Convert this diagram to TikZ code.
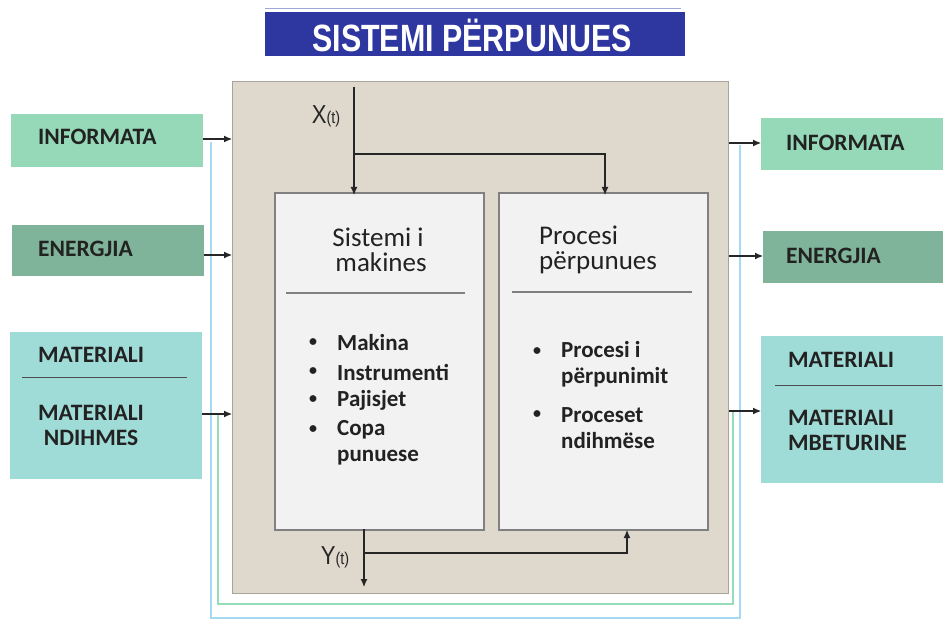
\documentclass[tikz,border=0pt]{standalone}
\usepackage{fontspec}
\setmainfont{Carlito}
\newfontfamily\arialf{Liberation Sans}
\usetikzlibrary{arrows.meta}
\definecolor{infoc}{HTML}{95D9B8}
\definecolor{enec}{HTML}{80B49A}
\definecolor{matc}{HTML}{A0DCD7}
\definecolor{beige}{HTML}{DFD9CD}
\definecolor{beigeb}{HTML}{A8A39B}
\definecolor{innerc}{HTML}{F2F2F2}
\definecolor{innerb}{HTML}{808080}
\definecolor{titlec}{HTML}{2E36A0}
\definecolor{titlel}{HTML}{9DA6D8}
\definecolor{fbblue}{HTML}{A6DAF4}
\definecolor{fbgreen}{HTML}{95DDB8}
\definecolor{txt}{HTML}{222222}
\begin{document}
\begin{tikzpicture}[x=1pt,y=-1pt,
  box/.style={anchor=north west, inner sep=0pt, draw=none},
  sidetxt/.style={text=txt, inner sep=0pt, font=\fontsize{23.5}{25}\selectfont\bfseries},
  hdr/.style={text=txt, inner sep=0pt, font=\fontsize{27}{25}\selectfont},
  itm/.style={text=txt, inner sep=0pt, anchor=west, align=left, font=\fontsize{23}{26}\selectfont\bfseries},
  bul/.style={text=txt, inner sep=0pt, font=\fontsize{16}{16}\selectfont\bfseries},
  arr/.style={draw=black!85, line width=1.1pt, -{Latex[length=8pt,width=7pt]}},
  sig/.style={text=black!85, inner sep=0pt}
]
\useasboundingbox (0,0) rectangle (943,620);

% title
\node[box, fill=titlec, minimum width=420pt, minimum height=44pt] (title) at (265,12) {};
\draw[titlel, line width=1pt] ([yshift=3pt]title.north west) -- ([xshift=-4pt,yshift=3pt]title.north east);
\node[text=white, inner sep=0pt] (titletxt) at (472,35) {\arialf\bfseries\fontsize{38}{38}\selectfont\scalebox{0.8}[1]{SISTEMI PËRPUNUES}};

% feedback lines (behind)
\coordinate (fbA) at (211,142);
\coordinate (fbB) at (740,145);
\coordinate (fgA) at (218,415);
\coordinate (fgB) at (733,411);
\draw[fbblue, line width=1.3pt] (fbA) -- (211,618) -- (740,618) -- (fbB);
\draw[fbgreen, line width=1.3pt] (fgA) -- (218,604) -- (733,604) -- (fgB);

% main box
\node[box, fill=beige, draw=beigeb, line width=1.2pt, minimum width=496pt, minimum height=512pt] (main) at (232,81) {};

% inner boxes
\node[box, fill=innerc, draw=innerb, line width=1.6pt, minimum width=209pt, minimum height=337pt] (inL) at (274,192) {};
\node[box, fill=innerc, draw=innerb, line width=1.6pt, minimum width=209pt, minimum height=337pt] (inR) at (498,192) {};

% headers
\node[hdr, align=center] (hL) at (378,250) {Sistemi i\\ \ makines};
\node[hdr, align=left, anchor=west] (hR) at (539,250) {Procesi\\përpunues};
\draw[innerb, line width=1.5pt] (286,293) -- (465,293);
\draw[innerb, line width=1.5pt] (512,292) -- (692,292);

% bullets left
\node[bul] (bl1) at (313,343) {•};
\node[bul] (bl2) at (313,372) {•};
\node[bul] (bl3) at (313,400) {•};
\node[bul] (bl4) at (313,430) {•};
\node[itm] (il1) at (337,343) {Makina};
\node[itm] (il2) at (337,372) {Instrumenti};
\node[itm] (il3) at (337,400) {Pajisjet};
\node[itm] (il4) at (337,443) {Copa\\punuese};
% bullets right
\node[bul] (br1) at (537,352) {•};
\node[bul] (br2) at (537,415) {•};
\node[itm] (ir1) at (561,364) {Procesi i\\përpunimit};
\node[itm] (ir2) at (561,428) {Proceset\\ndihmëse};

% X(t)
\coordinate (xtop) at (354,87);
\coordinate (xsplit) at (354,154);
\draw[arr] (xtop) -- ([yshift=-3pt]xtop |- inL.north);
\draw[arr] (xsplit) -- (605,154) -- ([yshift=-3pt]605,192);
\node[sig] (xlab) at (326,116) {\arialf\scalebox{0.85}[1]{\fontsize{26}{26}\selectfont X\fontsize{17}{17}\selectfont(t)}};

% Y(t)
\coordinate (ysplit) at (364,553);
\coordinate (ybot) at (364,587);
\draw[arr] (364,529) -- (ybot);
\draw[arr] (ysplit) -- (627,553) -- (627,530);
\node[sig] (ylab) at (335,557) {\arialf\scalebox{0.85}[1]{\fontsize{26}{26}\selectfont Y\fontsize{17}{17}\selectfont(t)}};

% left side boxes
\node[box, fill=infoc, minimum width=192pt, minimum height=53pt] (linf) at (11,114) {};
\node[box, fill=enec, minimum width=192pt, minimum height=51pt] (lene) at (12,225) {};
\node[box, fill=matc, minimum width=192pt, minimum height=147pt] (lmat) at (10,332) {};
\node[sidetxt, anchor=west] (linft) at (38,137) {INFORMATA};
\node[sidetxt, anchor=west] (lenet) at (38,249) {ENERGJIA};
\node[sidetxt, anchor=west] (lmat1) at (38,355) {MATERIALI};
\node[sidetxt, align=center] (lmat2) at (91,425) {MATERIALI\\NDIHMES};
\draw[black!70, line width=1pt] (22,378) -- (187,378);

% right side boxes
\node[box, fill=infoc, minimum width=182pt, minimum height=52pt] (rinf) at (761,118) {};
\node[box, fill=enec, minimum width=180pt, minimum height=52pt] (rene) at (763,231) {};
\node[box, fill=matc, minimum width=182pt, minimum height=147pt] (rmat) at (761,336) {};
\node[sidetxt, anchor=west] (rinft) at (786,143) {INFORMATA};
\node[sidetxt, anchor=west] (renet) at (786,256) {ENERGJIA};
\node[sidetxt, anchor=west] (rmat1) at (788,360) {MATERIALI};
\node[sidetxt, align=left, anchor=west] (rmat2) at (788,430) {MATERIALI\\MBETURINE};
\draw[black!70, line width=1pt] (775,386) -- (942,386);

% input arrows
\draw[arr] (203,139) -- (main.west |- 0,139);
\draw[arr] (lene.east |- 0,255) -- (main.west |- 0,255);
\draw[arr] (lmat.east |- 0,414) -- (main.west |- 0,414);
% output arrows
\draw[arr] (main.east |- 0,143) -- (rinf.west |- 0,143);
\draw[arr] (main.east |- 0,256) -- (rene.west |- 0,256);
\draw[arr] (main.east |- 0,411) -- (rmat.west |- 0,411);
\end{tikzpicture}
\end{document}
